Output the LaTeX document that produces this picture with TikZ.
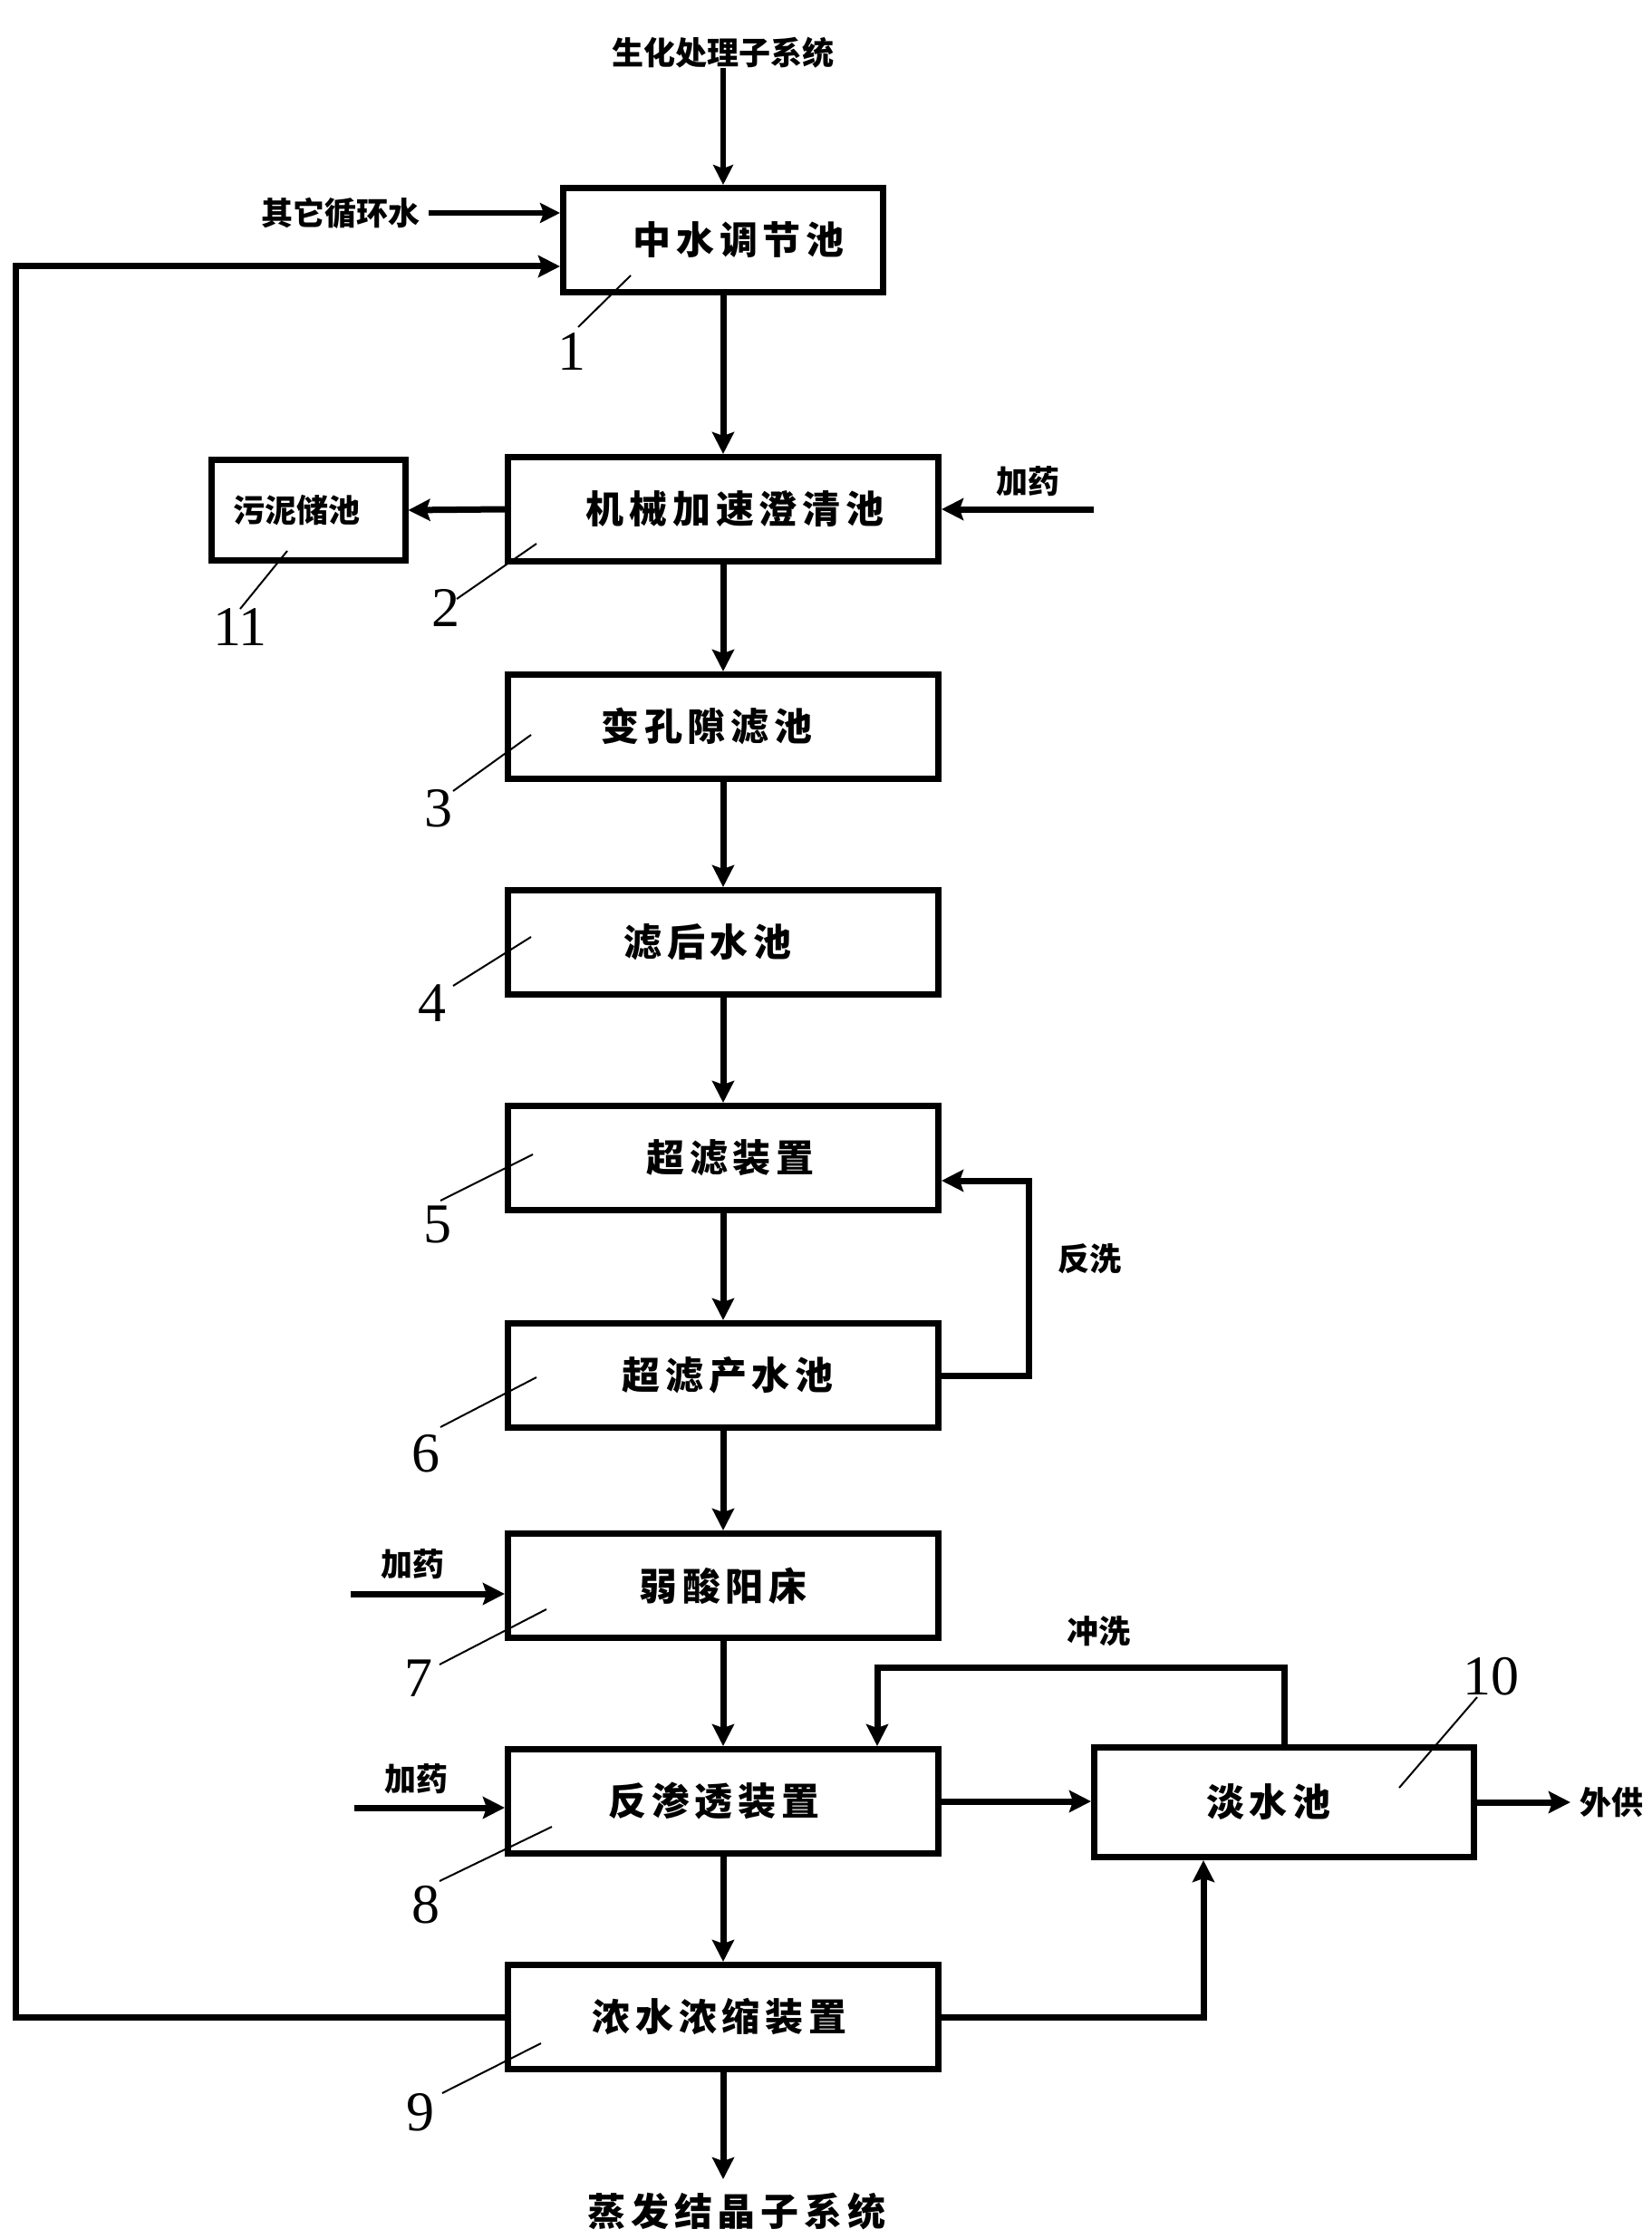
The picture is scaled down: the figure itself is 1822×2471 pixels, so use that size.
\documentclass[tikz,border=0pt]{standalone}
\usepackage{fontspec}
\setmainfont{Liberation Serif}
\newfontfamily\cjk{Noto Sans CJK SC}
\newfontfamily\cjksp[LetterSpace=14]{Noto Sans CJK SC}
\usetikzlibrary{arrows.meta}
\tikzset{
  box/.style={draw, rectangle, line width=3.5pt, inner sep=0pt,
    minimum width=237.5pt, minimum height=57.5pt,
    font=\cjksp\bfseries\fontsize{21}{25}\selectfont},
  lab/.style={inner sep=0pt, font=\cjk\bfseries\fontsize{17.5}{20}\selectfont},
  big/.style={inner sep=0pt, font=\cjksp\bfseries\fontsize{21}{25}\selectfont},
  num/.style={inner sep=0pt, font=\fontsize{31}{36}\selectfont},
  flow/.style={line width=3.5pt, -{Stealth[length=12pt,width=12pt,inset=2pt]}},
  flowthin/.style={line width=2.8pt, -{Stealth[length=11pt,width=11pt,inset=2pt]}},
  lead/.style={line width=1pt},
}
\newcommand\rs[1]{\hspace*{#1pt}}
\begin{document}
\begin{tikzpicture}[x=0.5pt,y=-0.5pt]
\fill[white] (0,0) rectangle (1822,2471);
\useasboundingbox (0,0) rectangle (1822,2471);

% boxes
\node[box, minimum width=176.5pt] (b1) at (798,265) {\rs{17}中水调节池};
\node[box] (b2) at (798,562) {\rs{13}机械加速澄清池};
\node[box, minimum width=107pt, minimum height=55.5pt, font=\cjk\bfseries\fontsize{17.5}{20}\selectfont] (b11) at (340,563) {污泥储池\rs{13}};
\node[box] (b3) at (798,802) {变孔隙滤池\rs{18}};
\node[box] (b4) at (798,1040) {滤后水池\rs{17}};
\node[box] (b5) at (798,1278) {\rs{8}超滤装置};
\node[box] (b6) at (798,1518) {\rs{5}超滤产水池};
\node[box] (b7) at (798,1750) {弱酸阳床};
\node[box] (b8) at (798,1988) {反渗透装置\rs{10}};
\node[box] (b9) at (798,2226) {浓水浓缩装置\rs{4}};
\node[box, minimum width=209.5pt, minimum height=60.5pt] (b10) at (1417,1989) {淡水池\rs{17}};

% outside labels
\node[lab] (src) at (798,58) {生化处理子系统};
\node[lab] (oth) at (376,235) {其它循环水};
\node[lab] (d2) at (1134,531) {加药};
\node[lab] (d7) at (455,1726) {加药};
\node[lab] (d8) at (459,1963) {加药};
\node[lab] (fxl) at (1202,1389) {反洗};
\node[lab] (cxl) at (1212,1800) {冲洗};
\node[lab] (out) at (1778,1989) {外供};
\node[big] (ev) at (813,2440) {蒸发结晶子系统};

% coordinates
\coordinate (fb) at (17,294);
\coordinate (d2s) at (1207,562);
\coordinate (d7s) at (387,1759);
\coordinate (d8s) at (391,1995);
\coordinate (fx) at (1135,1303);
\coordinate (cx) at (968,1840);
\coordinate (up) at (1328,2226);
\coordinate (evt) at (798,2405);
\coordinate (oths) at (473,235);
\coordinate (outs) at (1733,1989);

% connectors
\draw[flowthin] (src.south) -- (b1.north);
\draw[flowthin] (oths) -- (oths -| b1.west);
\draw[flow] (b9.west) -| (fb) -- (fb -| b1.west);
\draw[flow] (b1.south) -- (b2.north);
\draw[flow] (b2.west) -- (b11.east);
\draw[flow] (d2s) -- (d2s -| b2.east);
\draw[flow] (b2.south) -- (b3.north);
\draw[flow] (b3.south) -- (b4.north);
\draw[flow] (b4.south) -- (b5.north);
\draw[flow] (b5.south) -- (b6.north);
\draw[flow] (b6.east) -| (fx) -- (fx -| b5.east);
\draw[flow] (b6.south) -- (b7.north);
\draw[flow] (d7s) -- (d7s -| b7.west);
\draw[flow] (b7.south) -- (b8.north);
\draw[flow] (d8s) -- (d8s -| b8.west);
\draw[flow] (b8.east) -- (b8.east -| b10.west);
\draw[flow] (b10.north) |- (cx) -- (cx |- b8.north);
\draw[flow] (b10.east) -- (outs);
\draw[flow] (b8.south) -- (b9.north);
\draw[flow] (b9.east) -- (up) -- (up |- b10.south);
\draw[flow] (b9.south) -- (evt);

% reference numbers with leaders
\node[num] (n1) at (631,388) {1};
\node[num] (n2) at (492,671) {2};
\node[num] (n3) at (484,892) {3};
\node[num] (n4) at (477,1107) {4};
\node[num] (n5) at (483,1351) {5};
\node[num] (n6) at (470,1604) {6};
\node[num] (n7) at (462,1852) {7};
\node[num] (n8) at (470,2102) {8};
\node[num] (n9) at (464,2331) {9};
\node[num] (n10) at (1645,1850) {10};
\node[num] (n11) at (265,692) {11};

\coordinate (l1) at (696,304);  \coordinate (m1) at (638,361);
\coordinate (l2) at (592,600);  \coordinate (m2) at (504,661);
\coordinate (l3) at (586,811);  \coordinate (m3) at (500,873);
\coordinate (l4) at (586,1034); \coordinate (m4) at (500,1088);
\coordinate (l5) at (588,1274); \coordinate (m5) at (486,1325);
\coordinate (l6) at (592,1520); \coordinate (m6) at (486,1575);
\coordinate (l7) at (603,1776); \coordinate (m7) at (485,1837);
\coordinate (l8) at (609,2016); \coordinate (m8) at (485,2076);
\coordinate (l9) at (597,2255); \coordinate (m9) at (488,2310);
\coordinate (l10) at (1544,1973); \coordinate (m10) at (1630,1873);
\coordinate (l11) at (317,608); \coordinate (m11) at (265,672);
\foreach \i in {1,...,11} {\draw[lead] (l\i) -- (m\i);}
\end{tikzpicture}
\end{document}
